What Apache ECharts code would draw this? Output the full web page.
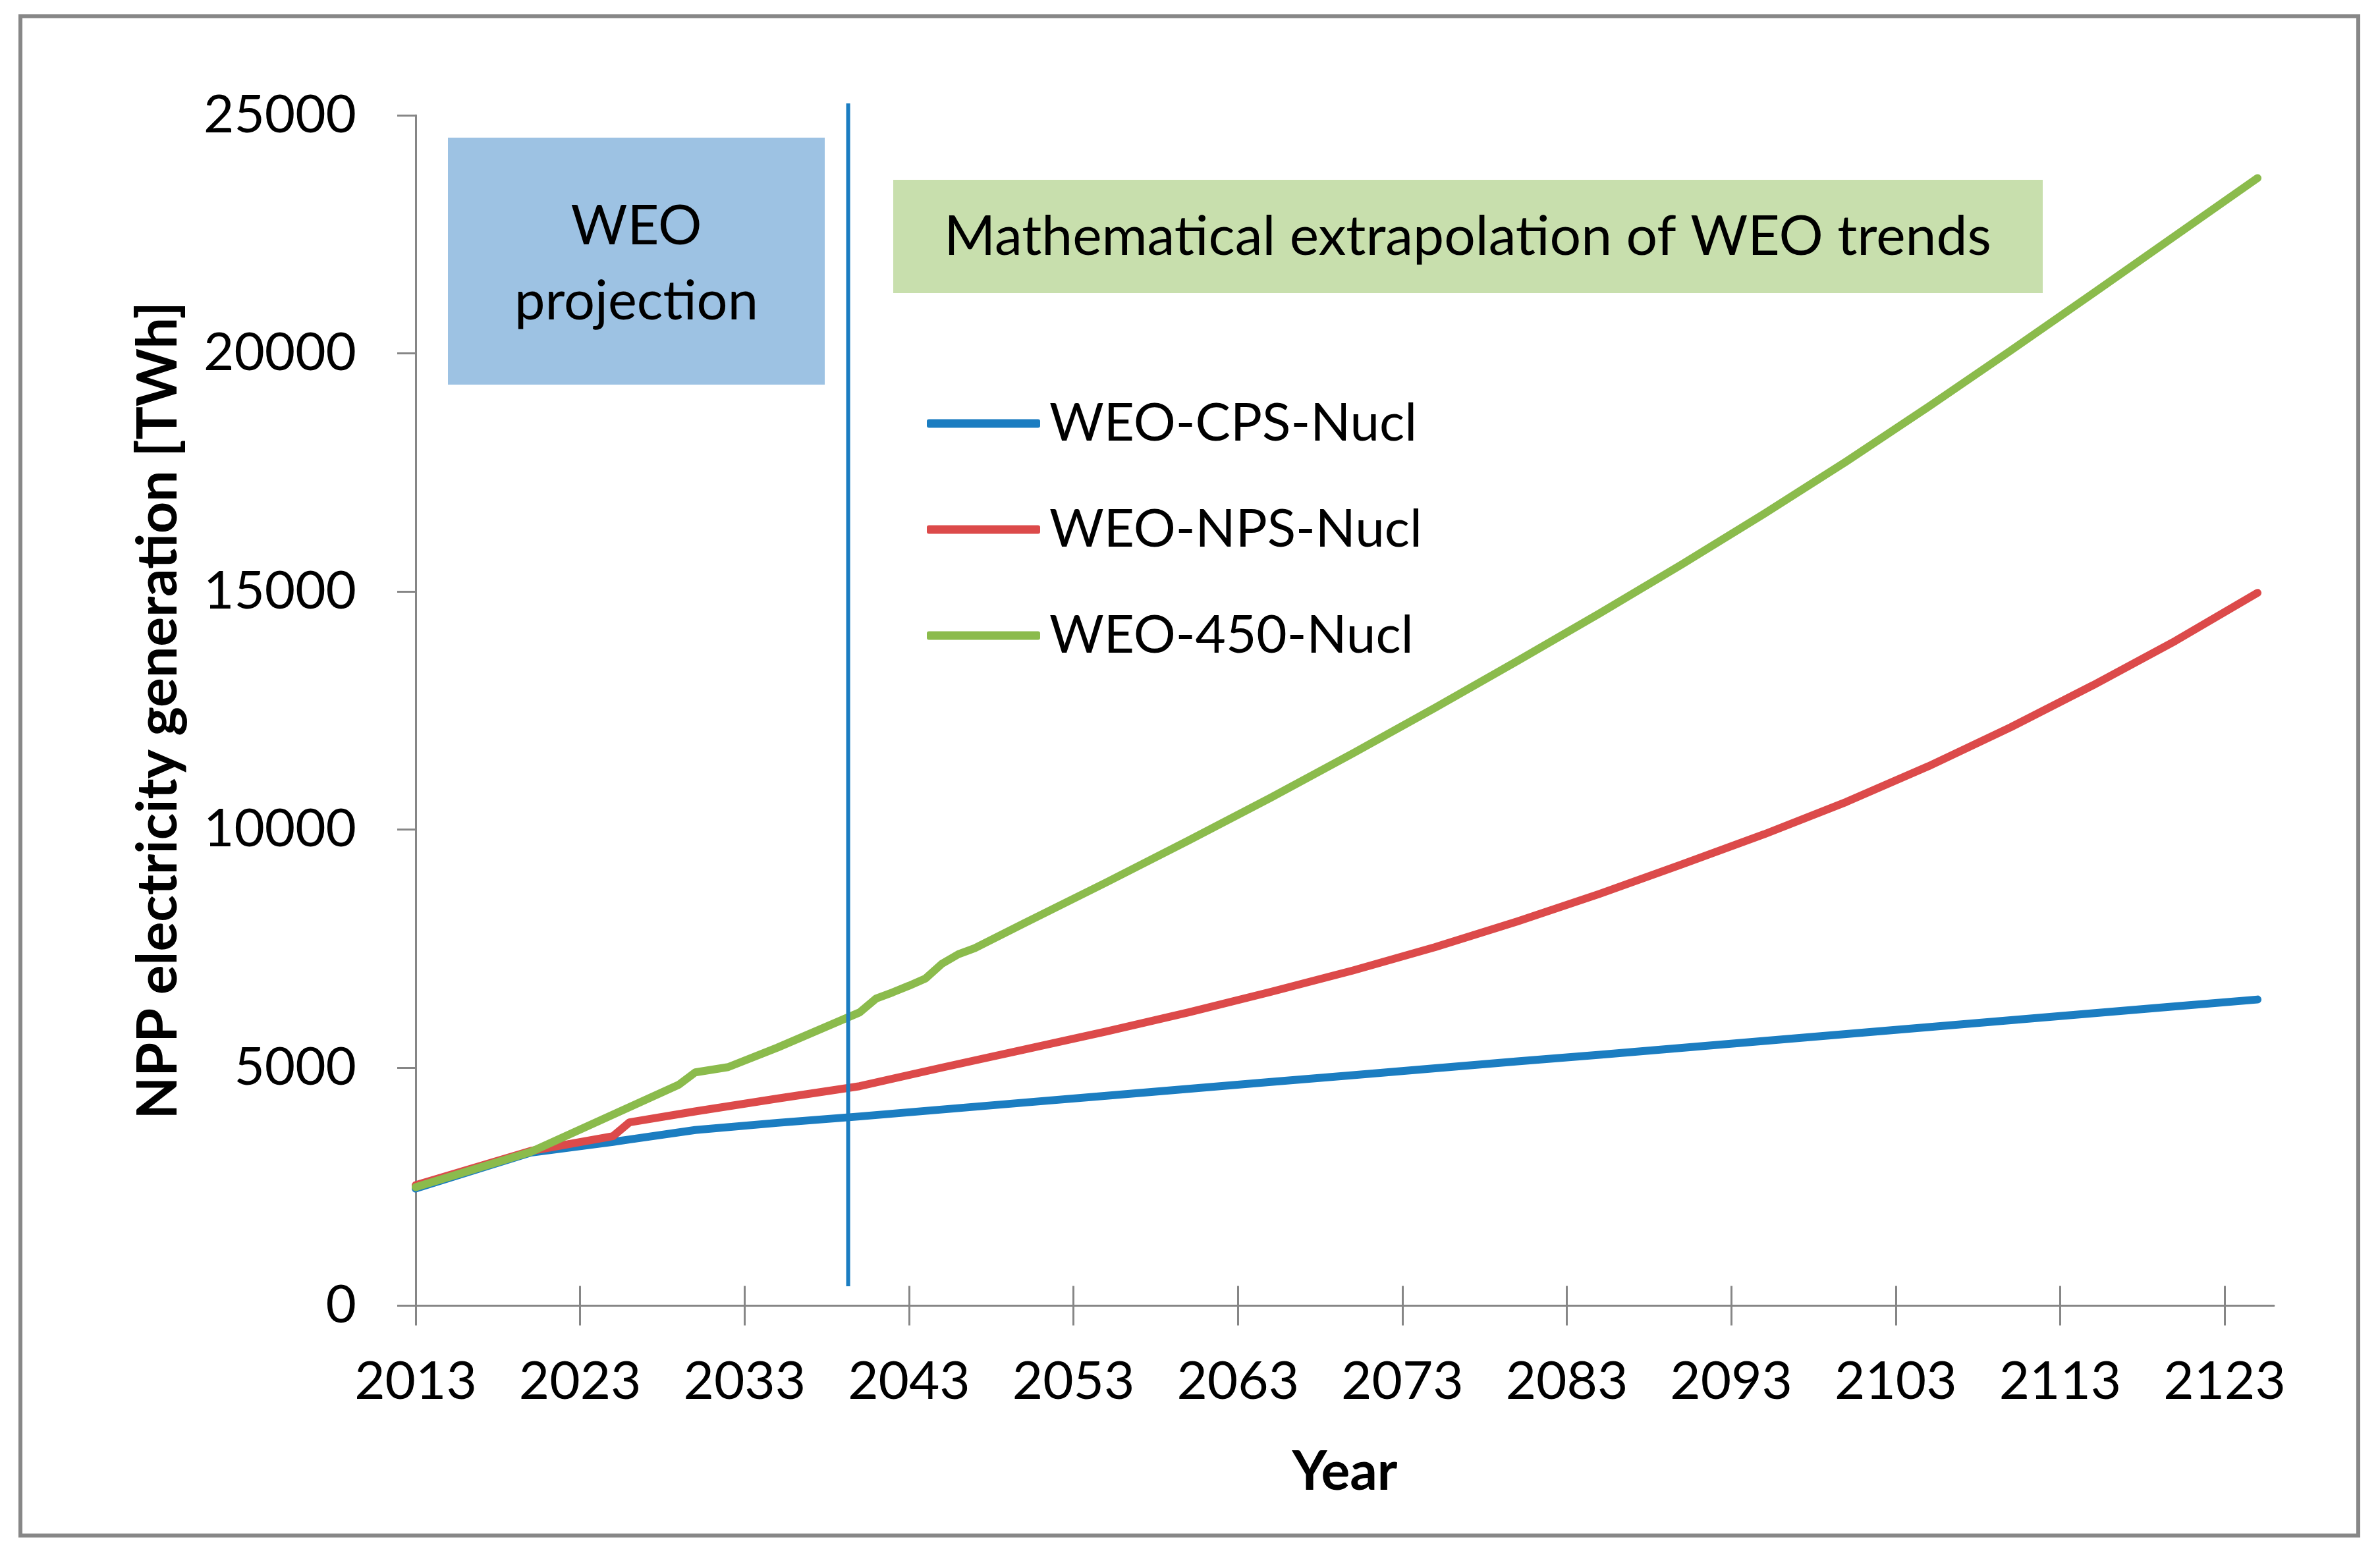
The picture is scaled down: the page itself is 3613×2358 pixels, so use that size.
<!DOCTYPE html>
<html>
<head>
<meta charset="utf-8">
<script src="https://cdn.jsdelivr.net/npm/echarts@6/dist/echarts.min.js"></script>
<style>
html,body{margin:0;padding:0;background:#fff;}
#c{width:3613px;height:2358px;}
</style>
</head>
<body>
<div id="c"></div>
<script>
// ---- data ----
const xTickYears = [2013, 2023, 2033, 2043, 2053, 2063, 2073, 2083, 2093, 2103, 2113, 2123];
const yMin = 0, yMax = 25000, yStep = 5000;
const xMin = 2013, xMax = 2126;
const seriesNames = ['WEO-CPS-Nucl', 'WEO-NPS-Nucl', 'WEO-450-Nucl'];
const seriesColors = ['#1b7dc1', '#dc4a4a', '#8bbb4c'];

const cpsData = [
  [2013, 2460], [2020, 3215], [2025, 3440], [2026, 3490], [2030, 3690], [2035, 3840],
  [2040, 3975], [2045, 4120], [2050, 4265], [2055, 4410], [2060, 4555], [2065, 4700],
  [2070, 4840], [2075, 4985], [2080, 5130], [2085, 5270], [2090, 5415], [2095, 5560],
  [2100, 5705], [2105, 5850], [2110, 5995], [2115, 6140], [2120, 6285], [2125, 6430]
];
const npsData = [
  [2013, 2530], [2020, 3250], [2025, 3560], [2026, 3850], [2030, 4080], [2035, 4350],
  [2040, 4610], [2045, 5000], [2050, 5380], [2055, 5760], [2060, 6160], [2065, 6590],
  [2070, 7040], [2075, 7530], [2080, 8070], [2085, 8650], [2090, 9270], [2095, 9900],
  [2100, 10580], [2105, 11330], [2110, 12150], [2115, 13030], [2120, 13960], [2125, 14970]
];
const s450Data = [
  [2013, 2490], [2020, 3230], [2029, 4640], [2030, 4900], [2032, 5010], [2035, 5420],
  [2040, 6160], [2041, 6450], [2042, 6580], [2043, 6720], [2044, 6870], [2045, 7180],
  [2046, 7380], [2047, 7510], [2050, 8030], [2055, 8890], [2060, 9770], [2065, 10670],
  [2070, 11600], [2075, 12560], [2080, 13540], [2085, 14540], [2090, 15570], [2095, 16630],
  [2100, 17730], [2105, 18880], [2110, 20060], [2115, 21260], [2120, 22470], [2125, 23680]
];
const projectionEndYear = 2039.3;
const boxLabelWEO = ['WEO', 'projection'];
const boxLabelExtrap = 'Mathematical extrapolation of WEO trends';
const xAxisTitle = 'Year';
const yAxisTitle = 'NPP electricity generation [TWh]';

// ---- chart ----
const FONT = 'Lato';
const AXIS_COLOR = '#868686';
const chart = echarts.init(document.getElementById('c'), null, {renderer: 'canvas'});

const allData = [cpsData, npsData, s450Data];

const option = {
  backgroundColor: '#ffffff',
  animation: false,
  grid: {left: 631, top: 175, right: 161, bottom: 375.5, containLabel: false},
  legend: {
    orient: 'vertical',
    left: 1407,
    top: 598,
    padding: 0,
    itemWidth: 172,
    itemHeight: 13,
    itemGap: 71,
    icon: 'roundRect',
    selectedMode: false,
    data: seriesNames,
    textStyle: {fontFamily: FONT, fontSize: 80, color: '#000', lineHeight: 90, padding: [0, 0, 0, 9]}
  },
  xAxis: [
    {
      type: 'value', min: xMin, max: xMax, position: 'bottom',
      name: xAxisTitle, nameLocation: 'middle', nameGap: 212,
      nameTextStyle: {fontFamily: FONT, fontWeight: 'bold', fontSize: 82, color: '#000'},
      axisLine: {show: true, onZero: false, lineStyle: {color: AXIS_COLOR, width: 3}},
      axisTick: {show: true, inside: false, length: 30, customValues: xTickYears, lineStyle: {color: AXIS_COLOR, width: 3}},
      axisLabel: {show: true, customValues: xTickYears, margin: 76, fontFamily: FONT, fontSize: 80, color: '#000', formatter: v => String(v)},
      splitLine: {show: false}
    },
    {
      type: 'value', min: xMin, max: xMax, position: 'bottom',
      axisLine: {show: false, onZero: false},
      axisTick: {show: true, inside: true, length: 30, customValues: xTickYears, lineStyle: {color: AXIS_COLOR, width: 3}},
      axisLabel: {show: false, customValues: xTickYears},
      splitLine: {show: false}
    }
  ],
  yAxis: {
    type: 'value', min: yMin, max: yMax, interval: yStep,
    name: yAxisTitle, nameLocation: 'middle', nameGap: 348, nameRotate: 90,
    nameTextStyle: {fontFamily: FONT, fontWeight: 'bold', fontSize: 84, color: '#000'},
    axisLine: {show: true, lineStyle: {color: AXIS_COLOR, width: 3}},
    axisTick: {show: true, inside: false, length: 28, lineStyle: {color: AXIS_COLOR, width: 3}},
    axisLabel: {margin: 90, fontFamily: FONT, fontSize: 80, color: '#000', formatter: v => String(v)},
    splitLine: {show: false}
  },
  series: seriesNames.map((name, i) => ({
    name: name,
    type: 'line',
    xAxisIndex: 0,
    data: allData[i],
    showSymbol: false,
    symbol: 'none',
    smooth: false,
    color: seriesColors[i],
    lineStyle: {color: seriesColors[i], width: 12, cap: 'round', join: 'round'},
    itemStyle: {color: seriesColors[i]},
    z: 3 + i
  }))
};
chart.setOption(option);

// annotation shapes (positioned in pixels like the drawn shapes of the original)
const lineX = chart.convertToPixel({xAxisIndex: 0}, projectionEndYear);
chart.setOption({
  graphic: [
    {type: 'rect', z: 0, silent: true,
     shape: {x: 31, y: 24.5, width: 3549, height: 2307},
     style: {fill: 'none', stroke: '#878787', lineWidth: 6}},
    {type: 'rect', z: 1, silent: true,
     shape: {x: 680, y: 209, width: 572, height: 375},
     style: {fill: '#9dc2e3'}},
    {type: 'text', z: 2, silent: true,
     style: {text: boxLabelWEO[0], x: 966, y: 344, font: '83px Lato', fill: '#000', textAlign: 'center', textVerticalAlign: 'middle'}},
    {type: 'text', z: 2, silent: true,
     style: {text: boxLabelWEO[1], x: 966, y: 458, font: '83px Lato', fill: '#000', textAlign: 'center', textVerticalAlign: 'middle'}},
    {type: 'rect', z: 1, silent: true,
     shape: {x: 1356, y: 273, width: 1745, height: 172},
     style: {fill: '#c8dfad'}},
    {type: 'text', z: 2, silent: true,
     style: {text: boxLabelExtrap, x: 2228, y: 360, font: '84px Lato', fill: '#000', textAlign: 'center', textVerticalAlign: 'middle'}},
    {type: 'line', z: 10, silent: true,
     shape: {x1: lineX, y1: 157, x2: lineX, y2: 1953},
     style: {stroke: '#1b7dc1', lineWidth: 6}}
  ]
});
</script>
</body>
</html>
